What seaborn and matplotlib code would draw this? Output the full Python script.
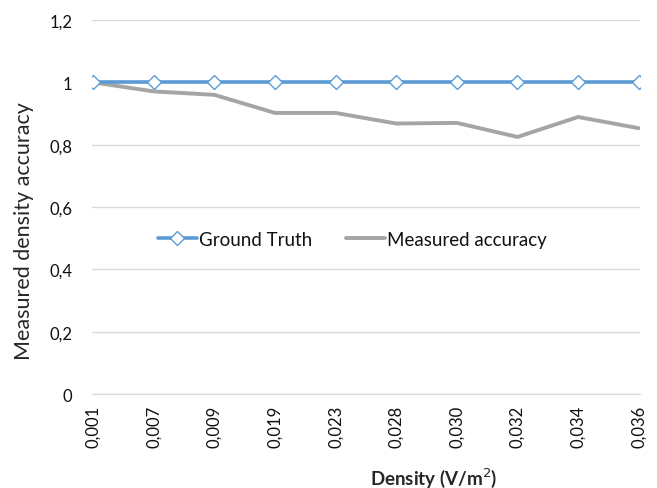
import matplotlib
matplotlib.use("Agg")
import matplotlib.pyplot as plt
import matplotlib.ticker as mticker
import seaborn as sns
import pandas as pd

# values
density = ["0,001", "0,007", "0,009", "0,019", "0,023",
           "0,028", "0,030", "0,032", "0,034", "0,036"]
ground_truth = [1, 1, 1, 1, 1, 1, 1, 1, 1, 1]
measured = [1.0, 0.971, 0.960, 0.902, 0.902, 0.868, 0.870, 0.825, 0.889, 0.853]

df = pd.DataFrame({"Density": density, "Ground Truth": ground_truth,
                   "Measured accuracy": measured})

sns.set_style("white")
plt.rcParams["font.family"] = ["Lato", "DejaVu Sans"]
plt.rcParams["text.color"] = "#111111"

fig = plt.figure(figsize=(6.57, 4.89), dpi=100)
ax = fig.add_axes([0.140, 0.192, 0.834, 0.765])

ax.grid(axis="y", color="#d9d9d9", linewidth=1)
ax.set_axisbelow(True)

sns.lineplot(data=df, x="Density", y="Ground Truth", ax=ax, sort=False,
             color="#5b9bd5", linewidth=2.6, marker="D", markersize=7,
             markerfacecolor="white", markeredgecolor="#5b9bd5",
             markeredgewidth=1, label="Ground Truth", zorder=3)
sns.lineplot(data=df, x="Density", y="Measured accuracy", ax=ax, sort=False,
             color="#a5a5a5", linewidth=2.8, label="Measured accuracy",
             zorder=2)

ax.set_ylim(0, 1.2)
ax.set_xlim(-0.02, len(density) - 1 + 0.02)
ax.yaxis.set_major_locator(mticker.MultipleLocator(0.2))
ax.yaxis.set_major_formatter(mticker.FuncFormatter(
    lambda v, p: ("%g" % round(v, 1)).replace(".", ",")))

for s in ["top", "right", "left"]:
    ax.spines[s].set_visible(False)
ax.spines["bottom"].set_color("#d9d9d9")
ax.tick_params(axis="x", rotation=90, labelsize=12, length=5,
               color="#d9d9d9", width=1, pad=3, labelcolor="#111111")
ax.tick_params(axis="y", labelsize=12, length=0, pad=14, labelcolor="#111111")

ax.set_xlabel("Density (V/m$^2$)", fontsize=13.5, fontweight="bold",
              va="center")
ax.xaxis.set_label_coords(0.624, -0.222)
ax.set_ylabel("Measured density accuracy", fontsize=15.5, va="center")
ax.yaxis.set_label_coords(-0.124, 0.438)

ax.legend(loc="center", bbox_to_anchor=(0.475, 0.414), ncol=2, frameon=False,
          fontsize=13.5, handlelength=2.1, columnspacing=1.8, handletextpad=0.1)

fig.savefig("out.png", dpi=100)
